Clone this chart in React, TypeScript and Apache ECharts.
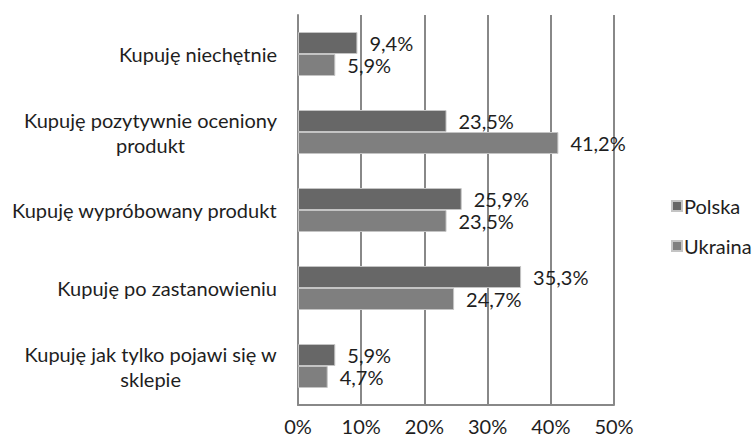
import React, { useEffect, useRef } from "react";
import * as echarts from "echarts";

const categories = [
  "Kupuję niechętnie",
  "Kupuję pozytywnie oceniony\nprodukt",
  "Kupuję wypróbowany produkt",
  "Kupuję po zastanowieniu",
  "Kupuję jak tylko pojawi się w\nsklepie",
];
const polska = [9.4, 23.5, 25.9, 35.3, 5.9];
const ukraina = [5.9, 41.2, 23.5, 24.7, 4.7];
const seriesNames = ["Polska", "Ukraina"];

const FONT = "Lato";
const TXT = "#1e1e1e";
const FS = 20;

export default function App() {
  const ref = useRef<HTMLDivElement>(null);
  useEffect(() => {
    if (!ref.current) return;
    const chart = echarts.init(ref.current, undefined, { renderer: "svg" });
    const fmt = (v: number) => v.toFixed(1).replace(".", ",") + "%";
    const label = {
      show: true,
      position: "right",
      distance: 12,
      color: TXT,
      fontFamily: FONT,
      fontSize: FS,
      formatter: (p: any) => fmt(p.value),
    };
    chart.setOption({
      animation: false,
      grid: { left: 298, right: 141, top: 15, bottom: 35, containLabel: false },
      legend: {
        orient: "vertical",
        left: 666,
        top: 190,
        itemWidth: 10,
        itemHeight: 10,
        itemGap: 18,
        icon: "rect",
        textStyle: { color: TXT, fontFamily: FONT, fontSize: FS, lineHeight: 22, padding: [0, 0, 0, -3] },
        data: seriesNames,
      },
      xAxis: {
        type: "value",
        min: 0,
        max: 50,
        interval: 10,
        axisLine: { show: true, lineStyle: { color: "#888888", width: 2 } },
        axisTick: { show: false },
        splitLine: { show: true, lineStyle: { color: "#888888", width: 2 } },
        axisLabel: {
          color: TXT,
          fontFamily: FONT,
          fontSize: FS,
          lineHeight: 20,
          margin: 11,
          formatter: (v: number) => v + "%",
        },
      },
      yAxis: {
        type: "category",
        inverse: true,
        data: categories,
        axisLine: { show: true, lineStyle: { color: "#888888", width: 2 } },
        axisTick: { show: false },
        axisLabel: {
          margin: 21,
          color: TXT,
          fontFamily: FONT,
          fontSize: FS,
          lineHeight: 25,
          formatter: (v: string) =>
            v
              .split("\n")
              .map((l) => "{c|" + l + "}")
              .join("\n"),
          rich: {
            c: { align: "center", color: TXT, fontFamily: FONT, fontSize: FS, lineHeight: 25 },
          },
        },
      },
      series: [
        {
          name: seriesNames[0],
          type: "bar",
          data: polska,
          barWidth: 22,
          barGap: "0%",
          itemStyle: { color: "#676767", borderColor: "#c4c4c4", borderWidth: 1 },
          label,
        },
        {
          name: seriesNames[1],
          type: "bar",
          data: ukraina,
          barWidth: 22,
          barGap: "0%",
          itemStyle: { color: "#7f7f7f", borderColor: "#c4c4c4", borderWidth: 1 },
          label,
        },
      ],
    });
    return () => chart.dispose();
  }, []);
  return <div ref={ref} style={{ width: 755, height: 440, position: "absolute", left: 0, top: 0 }} />;
}
